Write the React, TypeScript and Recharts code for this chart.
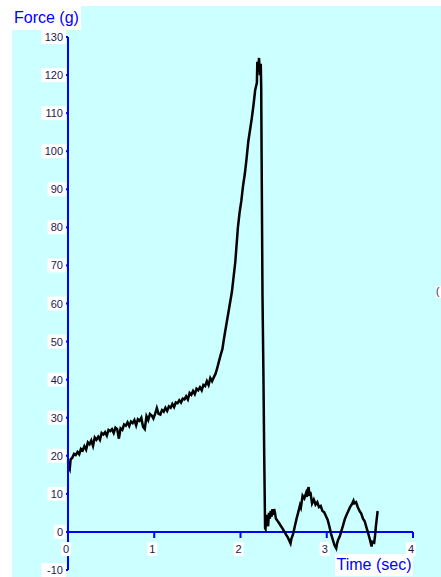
import React from 'react';
import { LineChart, Line, XAxis, YAxis, ReferenceLine, ReferenceDot } from 'recharts';

const timeSec: number[] = [
  0, 0.01, 0.02, 0.03, 0.05, 0.07, 0.09, 0.11, 0.13, 0.15, 0.17, 0.19, 0.21, 0.23, 0.25, 0.27, 0.29, 0.31, 0.33, 0.35,
  0.37, 0.39, 0.41, 0.43, 0.45, 0.47, 0.49, 0.51, 0.53, 0.55, 0.57, 0.59, 0.61, 0.63, 0.65, 0.67, 0.69, 0.71, 0.73, 0.75,
  0.77, 0.79, 0.81, 0.83, 0.85, 0.87, 0.89, 0.91, 0.93, 0.95, 0.97, 0.99, 1.01, 1.03, 1.05, 1.07, 1.09, 1.11, 1.13, 1.15,
  1.17, 1.19, 1.21, 1.23, 1.25, 1.27, 1.29, 1.31, 1.33, 1.35, 1.37, 1.39, 1.41, 1.43, 1.45, 1.47, 1.49, 1.51, 1.53, 1.55,
  1.57, 1.59, 1.61, 1.63, 1.65, 1.67, 1.69, 1.71, 1.73, 1.75,
  1.77, 1.79, 1.81, 1.84, 1.87, 1.9, 1.92, 1.94, 1.96, 1.97, 1.99, 2.01, 2.03, 2.05, 2.07, 2.09, 2.11, 2.13, 2.15, 2.17,
  2.19, 2.195, 2.205, 2.215, 2.225, 2.235, 2.24, 2.245, 2.255, 2.265, 2.275, 2.285,
  2.29, 2.3, 2.31, 2.32, 2.33, 2.34, 2.35, 2.36, 2.37, 2.38, 2.39, 2.4, 2.41, 2.43, 2.45, 2.47, 2.49, 2.51, 2.53, 2.55,
  2.57, 2.58, 2.59, 2.61, 2.63, 2.65, 2.67, 2.69, 2.7, 2.72, 2.74, 2.76, 2.77, 2.78, 2.79, 2.8, 2.81, 2.83, 2.85, 2.87,
  2.89, 2.91, 2.93, 2.95, 2.97, 2.99, 3.01, 3.03, 3.05, 3.07, 3.09, 3.11, 3.12, 3.13, 3.15, 3.17, 3.19, 3.21, 3.23, 3.25,
  3.27, 3.29, 3.31, 3.32, 3.34, 3.36, 3.38, 3.4, 3.42, 3.44, 3.46, 3.48, 3.5, 3.52, 3.53, 3.55, 3.56, 3.57, 3.58, 3.59,
];

const forceG: number[] = [
  18.5, 17, 16.5, 19, 19.5, 20.5, 20.2, 21, 20.4, 21.8, 21.4, 22.5, 21.6, 23.5, 23, 24, 22.6, 24.8, 24.2, 25,
  24.2, 26, 25.6, 26.2, 25.3, 26.8, 26.5, 27, 26, 27.4, 27, 24.5, 27.2, 26.8, 28.2, 27.9, 28.8, 27.8, 29, 28.6,
  29.4, 28, 29.6, 29.2, 30, 27.6, 27, 30.4, 29.4, 31, 30.6, 29.8, 31, 32.5, 31, 30.8, 32, 31.6, 32.6, 31.8,
  33, 32.6, 33.6, 32.8, 34, 33.8, 34.6, 34, 35, 34.8, 35.6, 34.8, 36.5, 36, 37, 36.2, 37.6, 37.2, 38, 37.2,
  38.6, 38.3, 39.6, 38.6, 40.4, 39.6, 40.6, 41.5, 43, 44.8,
  46.5, 48, 51, 55, 59, 63, 67, 71, 77, 80, 84, 87, 91, 94, 98, 102.5, 105.5, 108.5, 112, 116,
  118, 123.5, 121, 124.5, 120, 123, 117, 98, 62, 43, 20, 1,
  0.8, 4.5, 2.5, 1.5, 5, 3.5, 5.5, 4, 6, 4.5, 6, 5, 3.5, 2.9, 2.2, 1.5, 0.8, 0, -0.8, -1.5,
  -2.5, -3, -1.8, -0.5, 1.5, 3.5, 5.2, 7, 6.4, 9.5, 8.8, 10.2, 9.2, 11, 11.8, 9.5, 10.5, 7.5, 8.5, 7.2,
  7.8, 6.5, 6.8, 5.5, 5.2, 4.2, 3.2, 1.5, -0.5, -2, -3.5, -4.3, -3, -2.2, -1.2, 0.3, 1.8, 3.4, 4.5, 5.5,
  6.5, 7.2, 8.2, 7.5, 7.8, 6.5, 5.5, 4.8, 3.5, 2.8, 1.2, -0.3, -2, -3.8, -2.6, -2.8, -1, 1.5, 3.5, 5.5,
];

const yTicks: number[] = [-10, 0, 10, 20, 30, 40, 50, 60, 70, 80, 90, 100, 110, 120, 130];
const xTicks: number[] = [0, 1, 2, 3, 4];
const xTickLabels: string[] = ['0', '1', '2', '3', '4'];

const data = timeSec.map((t, i) => ({ t, f: forceG[i] }));

const BLUE = '#0000ff';
const LABEL = '#231a4a';
const FONT = '"Liberation Sans", Arial, sans-serif';

const YTick = (props: any) => {
  const { x, y, payload } = props;
  const s = String(payload.value);
  const w = s.length * 6.2 + 4;
  return (
    <g>
      <rect x={x - w + 1} y={y - 7} width={w + 2} height={14} fill="#ffffff" />
      <text x={x} y={y} dy={4} textAnchor="end" fontSize={11} fontFamily={FONT} fill={LABEL}>
        {s}
      </text>
    </g>
  );
};

const makeXLabel = (s: string) => (props: any) => {
  const { cx, cy } = props;
  const w = s.length * 6.2 + 4;
  return (
    <g>
      <rect x={cx - 2 - w / 2} y={cy - 7} width={w} height={14} fill="#ffffff" />
      <text x={cx - 2} y={cy} dy={4} textAnchor="middle" fontSize={11} fontFamily={FONT} fill={LABEL}>
        {s}
      </text>
    </g>
  );
};

export default function App() {
  return (
    <div style={{ position: 'relative', width: 441, height: 577, background: '#ffffff', overflow: 'hidden' }}>
      <style>{'html,body{margin:0;padding:0;overflow:hidden;}'}</style>
      <div style={{ position: 'absolute', left: 12, top: 6, width: 429, height: 571, background: '#ccffff' }} />
      <div style={{ position: 'absolute', left: 0, top: 0 }}>
        <LineChart width={441} height={577} data={data} margin={{ top: 37, right: 28, bottom: 7, left: 0 }}>
          <XAxis dataKey="t" type="number" domain={[0, 4]} ticks={xTicks} hide />
          <YAxis
            type="number"
            domain={[-10, 130]}
            ticks={yTicks}
            interval={0}
            width={68}
            tickSize={4}
            tickMargin={1}
            axisLine={{ stroke: BLUE, strokeWidth: 2 }}
            tickLine={{ stroke: BLUE, strokeWidth: 2 }}
            tick={<YTick />}
          />
          <ReferenceLine y={0} stroke={BLUE} strokeWidth={2} />
          {xTicks.slice(1).map((t) => (
            <ReferenceLine
              key={'xt' + t}
              segment={[{ x: t, y: 0 }, { x: t, y: -1.6 }]}
              stroke={BLUE}
              strokeWidth={2}
            />
          ))}
          {xTicks.map((t, i) => (
            <ReferenceDot key={'xl' + t} x={t} y={-4.5} r={0} shape={makeXLabel(xTickLabels[i])} />
          ))}
          <Line
            type="linear"
            dataKey="f"
            stroke="#000000"
            strokeWidth={2.5}
            dot={false}
            isAnimationActive={false}
          />
        </LineChart>
      </div>
      <div
        style={{
          position: 'absolute', left: 12, top: 6, height: 24, padding: '0 2px', background: '#ffffff',
          color: BLUE, fontFamily: FONT, fontSize: 16, lineHeight: '24px', whiteSpace: 'nowrap',
        }}
      >
        Force (g)
      </div>
      <div
        style={{
          position: 'absolute', left: 335, top: 554, height: 22, width: 78, background: '#ffffff',
          color: BLUE, fontFamily: FONT, fontSize: 16, lineHeight: '22px', whiteSpace: 'nowrap', textAlign: 'center',
        }}
      >
        Time (sec)
      </div>
      <div
        style={{
          position: 'absolute', left: 436, top: 286, height: 12, width: 5, background: '#ffffff',
          color: LABEL, fontFamily: FONT, fontSize: 10, lineHeight: '12px', overflow: 'hidden',
        }}
      >
        (
      </div>
    </div>
  );
}
